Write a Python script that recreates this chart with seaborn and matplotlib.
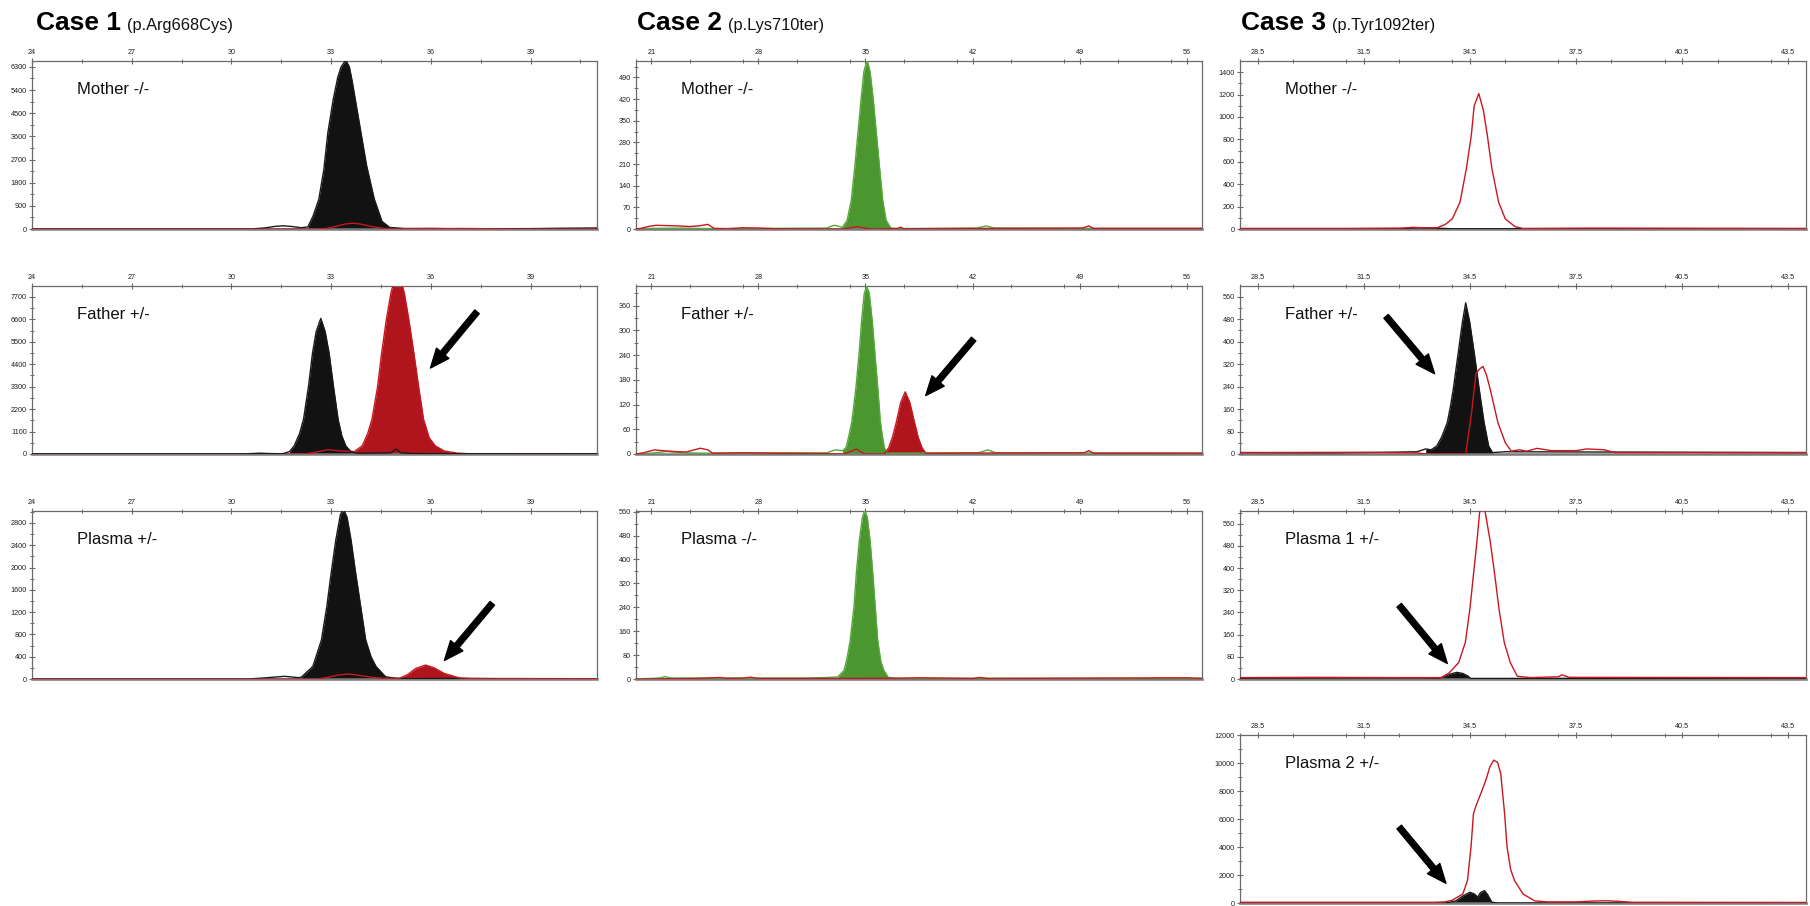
import matplotlib
matplotlib.use("Agg")
import matplotlib.pyplot as plt
import seaborn as sns
import numpy as np

sns.set_style("white")
plt.rcParams['font.family'] = ['Liberation Sans', 'DejaVu Sans']

# ---------------- tick labels ----------------
c1_xticks = [24, 27, 30, 33, 36, 39]
c2_xticks = [21, 28, 35, 42, 49, 56]
c3_xticks = [28.5, 31.5, 34.5, 37.5, 40.5, 43.5]
c1_mother_yticks = [0, 900, 1800, 2700, 3600, 4500, 5400, 6300]
c1_father_yticks = [0, 1100, 2200, 3300, 4400, 5500, 6600, 7700]
c1_plasma_yticks = [0, 400, 800, 1200, 1600, 2000, 2400, 2800]
c2_mother_yticks = [0, 70, 140, 210, 280, 350, 420, 490]
c2_father_yticks = [0, 60, 120, 180, 240, 300, 360]
c2_plasma_yticks = [0, 80, 160, 240, 320, 400, 480, 560]
c3_mother_yticks = [0, 200, 400, 600, 800, 1000, 1200, 1400]
c3_father_yticks = [0, 80, 160, 240, 320, 400, 480, 560]
c3_plasma1_yticks = [0, 80, 160, 240, 320, 400, 480, 560]
c3_plasma2_yticks = [0, 2000, 4000, 6000, 8000, 10000, 12000]

titles = ["Case 1", "Case 2", "Case 3"]
subtitles = ["(p.Arg668Cys)", "(p.Lys710ter)", "(p.Tyr1092ter)"]
labels_c1 = ["Mother -/-", "Father +/-", "Plasma +/-"]
labels_c2 = ["Mother -/-", "Father +/-", "Plasma -/-"]
labels_c3 = ["Mother -/-", "Father +/-", "Plasma 1 +/-", "Plasma 2 +/-"]

# ---------------- traces (size, signal) ----------------
# Case 1 - Mother
c1m_black_x = [24.0, 28.0, 30.6, 31.0, 31.3, 31.55, 31.8, 32.1, 32.3, 32.46, 32.63, 32.78, 32.9, 33.06, 33.2, 33.3,
               33.44, 33.55, 33.64, 33.73, 33.9, 34.07, 34.3, 34.53, 34.76, 35.2, 37.0, 39.0, 40.0, 41.0]
c1m_black_y = [5, 5, 5, 40, 100, 125, 100, 50, 80, 514, 1157, 2300, 3730, 5014, 5900, 6300,
               6560, 6300, 5700, 5014, 3730, 2450, 1157, 300, 60, 20, 10, 15, 30, 40]
c1m_red_x = [24, 32.6, 32.9, 33.2, 33.45, 33.67, 33.9, 34.2, 34.6, 35.0, 35.5, 36.0, 36.5, 37.0, 37.75, 38.5, 41]
c1m_red_y = [0, 0, 30, 120, 200, 225, 190, 100, 20, 5, 15, 25, 15, 20, 10, 0, 0]

# Case 1 - Father
c1f_black_x = [24, 30.4, 30.84, 31.2, 31.54, 31.75, 31.89, 32.05, 32.17, 32.32, 32.44, 32.55, 32.69, 32.82, 32.94,
               33.07, 33.21, 33.32, 33.44, 33.6, 33.8, 34.5, 34.8, 34.95, 35.1, 35.5, 38.5, 40.0, 41]
c1f_black_y = [5, 5, 40, 20, 10, 120, 405, 1000, 1702, 3323, 4944, 6000, 6646, 6000, 4944,
               3323, 1702, 900, 405, 100, 40, 50, 60, 240, 60, 20, 10, 10, 10]
c1f_red_x = [24, 32.2, 32.5, 32.9, 33.3, 33.7, 33.94, 34.1, 34.23, 34.4, 34.52, 34.66, 34.8, 34.9, 35.0, 35.1, 35.2,
             35.34, 35.49, 35.63, 35.78, 35.95, 36.13, 36.4, 36.8, 37.2, 41]
c1f_red_y = [0, 0, 80, 210, 150, 120, 405, 1000, 1702, 3323, 4944, 6565, 7900, 8500, 8650, 8500, 7900,
             6565, 4944, 3323, 1702, 800, 405, 150, 40, 10, 0]

# Case 1 - Plasma
c1p_black_x = [24, 30.5, 31.0, 31.6, 32.0, 32.1, 32.45, 32.6, 32.71, 32.87, 33.0, 33.14, 33.28, 33.37, 33.48, 33.6,
               33.74, 33.89, 34.04, 34.2, 34.35, 34.64, 35.0, 35.5, 36, 41]
c1p_black_y = [0, 0, 20, 48, 25, 30, 226, 500, 703, 1299, 1894, 2490, 2950, 3050, 2900, 2490,
               1894, 1299, 703, 400, 226, 40, 10, 5, 10, 5]
c1p_red_x = [24, 32.6, 32.9, 33.2, 33.54, 33.9, 34.3, 34.6, 35.07, 35.3, 35.55, 35.84, 36.1, 36.4, 36.86, 37.2, 38, 41]
c1p_red_y = [0, 0, 30, 70, 90, 60, 25, 10, 15, 80, 190, 250, 200, 100, 20, 10, 5, 5]

# Case 2 - Mother
c2m_green_x = [20, 21, 23, 25, 32.5, 32.7, 33.0, 33.3, 33.49, 33.8, 34.07, 34.3, 34.5, 34.7, 34.9, 35.11, 35.3,
               35.52, 35.72, 35.92, 36.13, 36.35, 36.66, 37, 42.3, 42.9, 43.4, 50, 57]
c2m_green_y = [0, 2, 3, 1, 3, 8, 12, 8, 5, 28, 92, 199, 306, 413, 510, 545, 510,
               413, 306, 199, 92, 28, 3, 1, 3, 10, 3, 2, 2]
c2m_red_x = [20, 20.3, 20.8, 21.3, 22, 22.8, 23.5, 24.1, 24.7, 25.1, 26, 27, 28, 29, 33.5, 34.2, 34.5, 34.8, 35.5,
             37.1, 37.3, 37.5, 49.2, 49.6, 49.9, 57]
c2m_red_y = [0, 2, 8, 12, 11, 10, 8, 10, 15, 2, 1, 4, 3, 1, 0, 5, 8, 4, 0,
             2, 6, 1, 3, 10, 2, 2]

# Case 2 - Father
c2f_green_x = [20, 21, 22, 23, 24.5, 32.5, 33, 33.5, 33.74, 33.95, 34.12, 34.38, 34.58, 34.75, 34.92, 35.08, 35.25,
               35.44, 35.62, 35.8, 35.97, 36.1, 36.23, 36.4, 42.4, 43.0, 43.5, 57]
c2f_green_y = [0, 2, 6, 3, 2, 3, 10, 8, 16, 50, 81, 162, 243, 324, 390, 407, 390,
               324, 243, 162, 81, 45, 16, 2, 3, 10, 3, 2]
c2f_red_x = [20, 20.5, 21.2, 21.8, 22.5, 23.3, 24.2, 24.7, 25.0, 27, 33.6, 34.0, 34.4, 34.7, 35.0, 36.23, 36.53,
             36.8, 37.04, 37.3, 37.6, 37.9, 38.18, 38.45, 38.69, 38.94, 39.5, 49.3, 49.6, 49.9, 57]
c2f_red_y = [0, 3, 10, 8, 6, 5, 14, 10, 2, 3, 0, 6, 12, 5, 0, 0, 16,
             45, 81, 125, 151, 125, 81, 40, 16, 2, 2, 3, 8, 2, 2]

# Case 2 - Plasma
c2p_green_x = [20, 21.5, 21.9, 22.3, 31.0, 32.5, 33.2, 33.6, 33.8, 34.0, 34.25, 34.4, 34.6, 34.8, 34.96, 35.12,
               35.3, 35.48, 35.64, 35.8, 36.0, 36.2, 36.5, 37, 57]
c2p_green_y = [0, 3, 8, 3, 3, 5, 7, 29, 70, 129, 241, 352, 464, 540, 565, 540,
               464, 352, 241, 129, 60, 29, 5, 2, 2]
c2p_red_x = [20, 24, 25.5, 26, 27, 27.5, 28, 34, 37.5, 38.5, 42, 42.5, 43, 56, 57]
c2p_red_y = [0, 2, 5, 2, 3, 6, 2, 2, 3, 4, 2, 5, 2, 4, 2]

# Case 3 - Mother
c3m_red_x = [28, 31, 32.6, 32.9, 33.2, 33.58, 33.8, 34.0, 34.22, 34.4, 34.54, 34.62, 34.75, 34.88, 34.99, 35.12,
             35.31, 35.5, 35.78, 36.0, 38, 44]
c3m_red_y = [5, 5, 8, 15, 10, 12, 40, 90, 240, 540, 839, 1100, 1208, 1060, 839, 540,
             240, 90, 20, 5, 8, 5]
c3m_black_x = [28, 32.5, 33, 33.5, 34, 44]
c3m_black_y = [3, 3, 10, 8, 2, 3]

# Case 3 - Father
c3f_black_x = [28, 30.5, 32, 33.0, 33.25, 33.4, 33.56, 33.7, 33.86, 33.95, 34.03, 34.16, 34.29, 34.38, 34.49,
               34.63, 34.76, 34.9, 35.03, 35.14, 35.5, 44]
c3f_black_y = [5, 4, 6, 8, 18, 15, 28, 60, 112, 170, 232, 352, 472, 538, 472,
               352, 232, 112, 28, 5, 8, 5]
c3f_red_x = [28, 31, 33.0, 33.25, 34.38, 34.55, 34.67, 34.75, 34.87, 34.97, 35.07, 35.29, 35.5, 35.67, 35.9, 36.1,
             36.4, 36.8, 37.5, 37.8, 38.3, 38.6, 44]
c3f_red_y = [5, 6, 4, 0, 0, 150, 286, 300, 312, 280, 232, 112, 40, 10, 15, 10,
             20, 12, 12, 18, 15, 5, 5]

# Case 3 - Plasma 1
c3p1_red_x = [28, 30, 32.5, 33.69, 33.91, 34.18, 34.37, 34.5, 34.6, 34.7, 34.78, 34.92, 35.07, 35.2, 35.32, 35.47,
              35.64, 35.84, 36.2, 37.0, 37.1, 37.3, 44]
c3p1_red_y = [5, 6, 5, 5, 22, 59, 132, 254, 377, 499, 610, 610, 499, 377, 254, 132,
              59, 10, 5, 8, 15, 6, 5]
c3p1_black_x = [28, 33.0, 33.63, 33.8, 33.95, 34.13, 34.3, 34.45, 34.52, 35, 44]
c3p1_black_y = [3, 4, 3, 10, 18, 24, 20, 10, 2, 2, 3]

# Case 3 - Plasma 2
c3p2_red_x = [28, 32, 33.5, 33.8, 34.0, 34.3, 34.43, 34.53, 34.6, 34.68, 34.82, 34.95, 35.06, 35.17, 35.28, 35.37,
              35.48, 35.55, 35.65, 35.76, 36.0, 36.33, 36.7, 37.5, 38.0, 38.3, 38.7, 39.1, 44]
c3p2_red_y = [50, 50, 50, 80, 200, 645, 1601, 3991, 6380, 7000, 7900, 8771, 9700, 10205, 10050, 9249,
              6380, 3991, 2400, 1601, 645, 150, 80, 80, 140, 160, 120, 50, 40]
c3p2_black_x = [28, 33.8, 34.1, 34.3, 34.5, 34.62, 34.72, 34.8, 34.91, 35.0, 35.12, 35.3, 44]
c3p2_black_y = [0, 0, 150, 500, 765, 650, 420, 750, 884, 600, 50, 0, 0]

# ---------------- styling ----------------
BLACK_FILL = '#121212'
BLACK_LINE = '#1a1a1a'
RED_FILL = '#b0151d'
RED_LINE = '#c8171f'
GREEN_FILL = '#4c9630'
GREEN_LINE = '#55a83a'
SPINE = '#6a6a6a'

W, H = 1810, 906
fig = plt.figure(figsize=(W / 100, H / 100), dpi=100)
fig.patch.set_facecolor('white')

col_left = [32, 636, 1240]
col_width = [565, 566, 566]
row_top = [61, 286, 511, 735]
panel_h = 168


def make_ax(col, row):
    l, t, w = col_left[col], row_top[row], col_width[col]
    return fig.add_axes([l / W, 1 - (t + panel_h) / H, w / W, panel_h / H])


def style_ax(ax, xlim, xticks, xstep_minor, xfmt, ylim, yticks, label):
    ax.set_xlim(*xlim)
    ax.set_ylim(*ylim)
    ax.xaxis.tick_top()
    ax.set_xticks(xticks)
    ax.set_xticks(np.arange(xlim[0], xlim[1] + 1e-9, xstep_minor), minor=True)
    ax.set_xticklabels([xfmt(v) for v in xticks])
    ax.set_yticks(yticks)
    ystep = yticks[1] - yticks[0]
    ax.set_yticks(np.arange(0, ylim[1], ystep / 2), minor=True)
    ax.set_yticklabels([str(v) for v in yticks])
    ax.tick_params(axis='both', which='major', direction='inout', length=5, width=0.8,
                   colors=SPINE, labelsize=5.2, labelcolor='#1e1e1e', pad=1.2)
    ax.tick_params(axis='both', which='minor', direction='inout', length=3.5, width=0.7,
                   colors=SPINE)
    ax.tick_params(axis='x', which='both', top=True, bottom=False, labeltop=True, labelbottom=False)
    ax.tick_params(axis='y', which='both', left=True, right=False)
    for s in ['top', 'left', 'right']:
        ax.spines[s].set_visible(True)
        ax.spines[s].set_color(SPINE)
        ax.spines[s].set_linewidth(0.9)
    ax.spines['bottom'].set_visible(True)
    ax.spines['bottom'].set_color('#7a7a7a')
    ax.spines['bottom'].set_linewidth(1.8)
    ax.set_xlabel('')
    ax.set_ylabel('')
    ax.grid(False)
    ax.text(0.08, 0.83, label, transform=ax.transAxes, fontsize=12, va='center', ha='left', color='#111111')


def fill_peak(ax, xs, ys, lo, hi, color):
    xs = np.asarray(xs, float)
    ys = np.asarray(ys, float)
    m = (xs >= lo) & (xs <= hi)
    ax.fill_between(xs, ys, 0, where=m, color=color, lw=0, zorder=2)


def trace(ax, xs, ys, color, lw=1.0, z=3):
    sns.lineplot(x=xs, y=ys, ax=ax, color=color, lw=lw, estimator=None, sort=False, legend=False, zorder=z)


def arrow(ax, tail, tip):
    ax.annotate('', xy=tip, xytext=tail, xycoords='data', textcoords='data',
                arrowprops=dict(arrowstyle='simple,head_width=1.05,head_length=1.25,tail_width=0.38',
                                mutation_scale=11, color='black', shrinkA=0, shrinkB=0), zorder=6,
                annotation_clip=False)


fmt_int = lambda v: str(int(v))
fmt_dec = lambda v: f"{v:.1f}"

# ---------------- Case 1 ----------------
ax = make_ax(0, 0)
fill_peak(ax, c1m_black_x, c1m_black_y, 32.2, 35.3, BLACK_FILL)
trace(ax, c1m_black_x, c1m_black_y, BLACK_LINE)
trace(ax, c1m_red_x, c1m_red_y, RED_LINE)
style_ax(ax, (24, 41), c1_xticks, 1.5, fmt_int, (0, 6530), c1_mother_yticks, labels_c1[0])

ax = make_ax(0, 1)
fill_peak(ax, c1f_black_x, c1f_black_y, 31.6, 33.8, BLACK_FILL)
fill_peak(ax, c1f_red_x, c1f_red_y, 33.7, 37.2, RED_FILL)
trace(ax, c1f_red_x, c1f_red_y, RED_LINE)
trace(ax, c1f_black_x, c1f_black_y, BLACK_LINE)
style_ax(ax, (24, 41), c1_xticks, 1.5, fmt_int, (0, 8235), c1_father_yticks, labels_c1[1])
arrow(ax, (37.39, 6970), (35.99, 4215))

ax = make_ax(0, 2)
fill_peak(ax, c1p_black_x, c1p_black_y, 32.1, 35.0, BLACK_FILL)
fill_peak(ax, c1p_red_x, c1p_red_y, 35.0, 37.2, RED_FILL)
trace(ax, c1p_black_x, c1p_black_y, BLACK_LINE)
trace(ax, c1p_red_x, c1p_red_y, RED_LINE)
style_ax(ax, (24, 41), c1_xticks, 1.5, fmt_int, (0, 3014), c1_plasma_yticks, labels_c1[2])
arrow(ax, (37.85, 1358), (36.41, 334))

# ---------------- Case 2 ----------------
ax = make_ax(1, 0)
fill_peak(ax, c2m_green_x, c2m_green_y, 33.4, 36.8, GREEN_FILL)
trace(ax, c2m_green_x, c2m_green_y, GREEN_LINE)
trace(ax, c2m_red_x, c2m_red_y, RED_LINE)
style_ax(ax, (20, 57), c2_xticks, 3.5, fmt_int, (0, 543), c2_mother_yticks, labels_c2[0])

ax = make_ax(1, 1)
fill_peak(ax, c2f_green_x, c2f_green_y, 33.5, 36.5, GREEN_FILL)
fill_peak(ax, c2f_red_x, c2f_red_y, 36.2, 39.0, RED_FILL)
trace(ax, c2f_green_x, c2f_green_y, GREEN_LINE)
trace(ax, c2f_red_x, c2f_red_y, RED_LINE)
style_ax(ax, (20, 57), c2_xticks, 3.5, fmt_int, (0, 408), c2_father_yticks, labels_c2[1])
arrow(ax, (42.07, 279), (38.94, 142))

ax = make_ax(1, 2)
fill_peak(ax, c2p_green_x, c2p_green_y, 33.0, 36.6, GREEN_FILL)
trace(ax, c2p_green_x, c2p_green_y, GREEN_LINE)
trace(ax, c2p_red_x, c2p_red_y, RED_LINE)
style_ax(ax, (20, 57), c2_xticks, 3.5, fmt_int, (0, 562), c2_plasma_yticks, labels_c2[2])

# ---------------- Case 3 ----------------
ax = make_ax(2, 0)
trace(ax, c3m_black_x, c3m_black_y, BLACK_LINE)
trace(ax, c3m_red_x, c3m_red_y, RED_LINE)
style_ax(ax, (28, 44), c3_xticks, 1.5, fmt_dec, (0, 1499), c3_mother_yticks, labels_c3[0])

ax = make_ax(2, 1)
fill_peak(ax, c3f_black_x, c3f_black_y, 33.2, 35.2, BLACK_FILL)
trace(ax, c3f_black_x, c3f_black_y, BLACK_LINE)
trace(ax, c3f_red_x, c3f_red_y, RED_LINE)
style_ax(ax, (28, 44), c3_xticks, 1.5, fmt_dec, (0, 598), c3_father_yticks, labels_c3[1])
arrow(ax, (32.13, 490), (33.5, 286))

ax = make_ax(2, 2)
fill_peak(ax, c3p1_black_x, c3p1_black_y, 33.6, 34.55, BLACK_FILL)
trace(ax, c3p1_black_x, c3p1_black_y, BLACK_LINE)
trace(ax, c3p1_red_x, c3p1_red_y, RED_LINE)
style_ax(ax, (28, 44), c3_xticks, 1.5, fmt_dec, (0, 606), c3_plasma1_yticks, labels_c3[2])
arrow(ax, (32.5, 266), (33.86, 56))

ax = make_ax(2, 3)
fill_peak(ax, c3p2_black_x, c3p2_black_y, 33.8, 35.3, BLACK_FILL)
trace(ax, c3p2_black_x, c3p2_black_y, BLACK_LINE)
trace(ax, c3p2_red_x, c3p2_red_y, RED_LINE)
style_ax(ax, (28, 44), c3_xticks, 1.5, fmt_dec, (0, 12000), c3_plasma2_yticks, labels_c3[3])
arrow(ax, (32.5, 5425), (33.82, 1410))

# ---------------- titles ----------------
fig.canvas.draw()
renderer = fig.canvas.get_renderer()
title_x = [36, 637, 1241]
for i in range(3):
    t = fig.text(title_x[i] / W, 1 - 30 / H, titles[i], fontsize=19, fontweight='bold',
                 va='baseline', ha='left', color='#000000')
    bb = t.get_window_extent(renderer)
    fig.text((bb.x1 + 6) / W, 1 - 30 / H, subtitles[i], fontsize=11.8, va='baseline', ha='left',
             color='#111111')

fig.savefig("out.png", dpi=100, facecolor='white')
